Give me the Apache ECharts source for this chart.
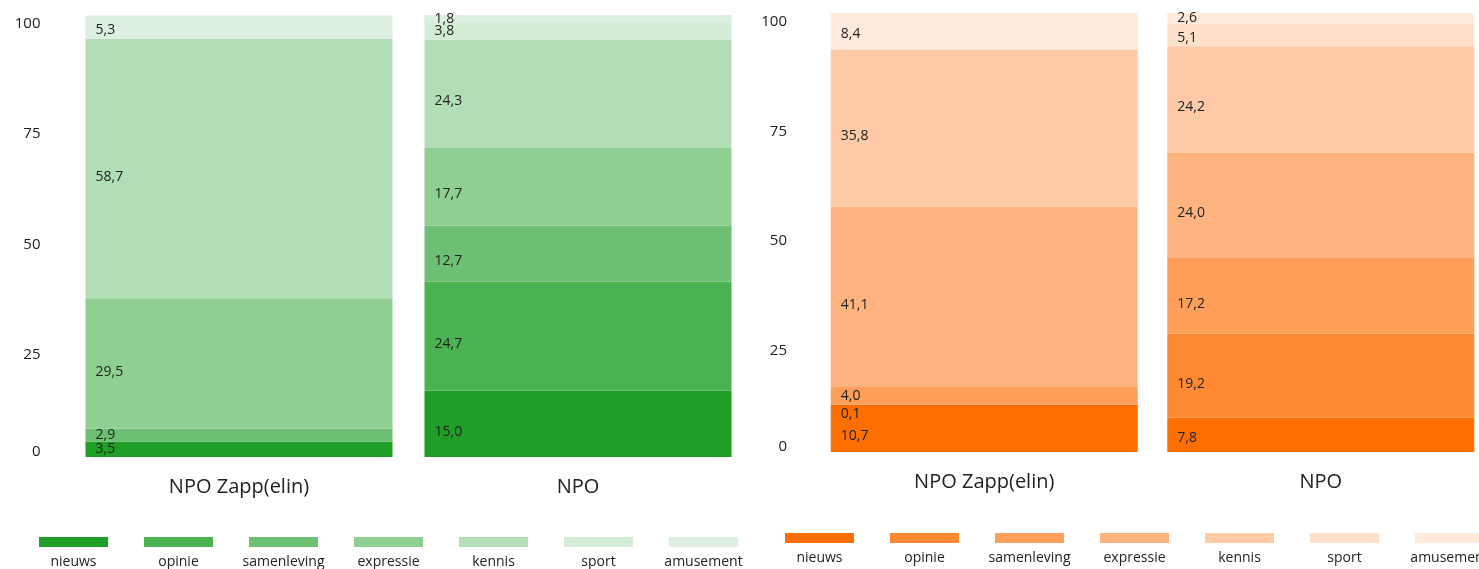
<!DOCTYPE html>
<html>
<head>
<meta charset="utf-8">
<script src="https://cdn.jsdelivr.net/npm/echarts@6/dist/echarts.min.js"></script>
<style>
html,body{margin:0;padding:0;background:#fff;overflow:hidden;}
#c{width:1479px;height:569px;}
</style>
</head>
<body>
<div id="c"></div>
<script>
// ---- data ----
const categories = ['NPO Zapp(elin)', 'NPO'];
const genres = ['nieuws', 'opinie', 'samenleving', 'expressie', 'kennis', 'sport', 'amusement'];
const yTicks = [0, 25, 50, 75, 100];
// left chart (green): per genre, values for [Zapp, NPO]
const leftZapp = [3.5, null, 2.9, 29.5, 58.7, null, 5.3];
const leftNpo  = [15.0, 24.7, 12.7, 17.7, 24.3, 3.8, 1.8];
// right chart (orange)
const rightZapp = [10.7, 0.1, 4.0, 41.1, 35.8, null, 8.4];
const rightNpo  = [7.8, 19.2, 17.2, 24.0, 24.2, 5.1, 2.6];

const greens  = ['#1f9e28', '#4bb252', '#6dbf73', '#8fcf92', '#b1deb4', '#d3ecd6', '#ddefe0'];
const oranges = ['#ff6f00', '#ff8a33', '#ff9f59', '#ffb47f', '#ffcaa5', '#fee0cb', '#ffeadb'];

const FONT = '"Open Sans", "Noto Sans", sans-serif';
const TXT = '#222';

function fmt(v) { return v == null ? '' : v.toFixed(1).replace('.', ','); }

function yAxis(gridIndex) {
  return {
    type: 'value', gridIndex, min: yTicks[0], max: yTicks[yTicks.length - 1], interval: 25,
    splitLine: { show: false }, axisLine: { show: false }, axisTick: { show: false },
    axisLabel: {
      margin: 29, color: TXT, fontFamily: FONT, fontSize: 15,
      formatter: v => v === 0 ? '{z|0}' : '{n|' + v + '}',
      rich: {
        n: { padding: [17, 0, 0, 0], fontSize: 15, color: TXT, fontFamily: FONT },
        z: { padding: [0, 0, 10, 0], fontSize: 15, color: TXT, fontFamily: FONT }
      }
    }
  };
}
function xAxis(gridIndex) {
  return {
    type: 'category', gridIndex, data: categories,
    axisLine: { show: false }, axisTick: { show: false },
    axisLabel: { margin: 20, color: TXT, fontFamily: FONT, fontSize: 20 }
  };
}

function makeSeries(zapp, npo, colors, idx, stack) {
  return genres.map((g, i) => ({
    name: g, type: 'bar', stack, xAxisIndex: idx, yAxisIndex: idx,
    barWidth: 307,
    itemStyle: { color: colors[i] },
    data: [zapp[i], npo[i]],
    label: {
      show: true, position: 'insideLeft', distance: 10,
      color: TXT, fontFamily: FONT, fontSize: 14,
      formatter: p => fmt(p.value)
    },
    labelLayout: function (params) {
      const r = params.rect;
      let y;
      if (r.height < 5) y = r.y + r.height + 8.5;
      else if (r.height < 20) y = r.y + r.height / 2;
      else if (r.height < 40) y = r.y + r.height / 2 + 3;
      else y = r.y + r.height / 2 + 8;
      return { y: y, verticalAlign: 'middle' };
    }
  }));
}

function makeLegend(colors, left, top, prefix, lh) {
  const rich = { t: { width: 100, align: 'center', lineHeight: lh, fontSize: 14, color: TXT, fontFamily: FONT } };
  colors.forEach((c, i) => { rich[prefix + i] = { width: 69, height: 10, lineHeight: 10, align: 'center', backgroundColor: c }; });
  return {
    data: genres, left, top, width: 800, orient: 'horizontal',
    icon: 'none', itemWidth: 0, itemHeight: 10, itemGap: 0,
    selectedMode: false,
    formatter: name => '{' + prefix + genres.indexOf(name) + '| }\n{t|' + name + '}',
    textStyle: { rich, color: TXT, fontFamily: FONT, fontSize: 14 }
  };
}

const chart = echarts.init(document.getElementById('c'), null, { renderer: 'canvas' });
chart.setOption({
  animation: false,
  textStyle: { fontFamily: FONT },
  grid: [
    { left: 69.5, top: 15, width: 678, height: 442, outerBoundsMode: 'none', containLabel: false },
    { left: 816, top: 13, width: 673, height: 439, outerBoundsMode: 'none', containLabel: false }
  ],
  xAxis: [xAxis(0), xAxis(1)],
  yAxis: [yAxis(0), yAxis(1)],
  legend: [makeLegend(greens, 13.5, 530, 'g', 31), makeLegend(oranges, 759.5, 526, 'o', 30)],
  series: [].concat(makeSeries(leftZapp, leftNpo, greens, 0, 'a'), makeSeries(rightZapp, rightNpo, oranges, 1, 'b'))
});
</script>
</body>
</html>
